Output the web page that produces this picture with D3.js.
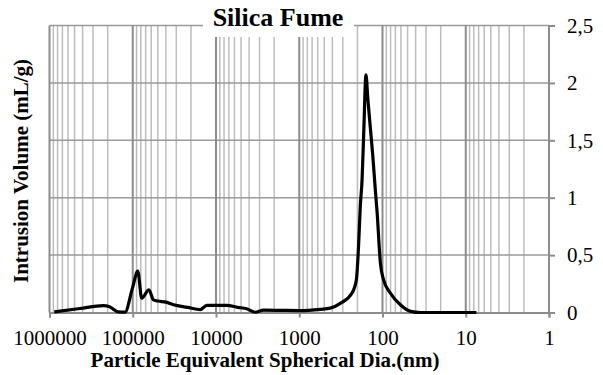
<!DOCTYPE html>
<html>
<head>
<meta charset="utf-8">
<script src="https://cdn.jsdelivr.net/npm/d3@7.9.0/dist/d3.min.js"></script>
<style>
  body { margin: 0; background: #fff; }
  svg { display: block; }
  svg text { font-family: "Liberation Serif", "Times New Roman", serif !important; fill: #000; }
</style>
</head>
<body>
<svg id="chart" width="603" height="375"></svg>
<script>
// particle diameter (nm) and intrusion volume (mL/g)
const diameters = [875000, 430000, 225000, 190000, 149000, 124000, 101000, 87000, 78000, 64000,
  56500, 50000, 40000, 32400, 22000, 15500, 12900, 7400, 5500, 4270,
  3390, 2690, 1500, 970, 560, 424, 321, 232, 206, 194,
  185, 176, 168, 158, 150, 140, 131, 122, 116, 106,
  97, 80.6, 61, 46, 35, 20, 7.45];
const volumes = [0.005, 0.035, 0.06, 0.05, 0.005, 0.003, 0.21, 0.36, 0.125, 0.198,
  0.11, 0.1, 0.09, 0.067, 0.045, 0.025, 0.062, 0.062, 0.045, 0.032,
  0.002, 0.02, 0.018, 0.017, 0.028, 0.038, 0.08, 0.17, 0.285, 0.575,
  0.92, 1.155, 1.57, 2.07, 1.86, 1.61, 1.37, 1.07, 0.87, 0.43,
  0.285, 0.17, 0.067, 0.01, 0.0, 0.0, 0.0];
const xTicks = [1000000, 100000, 10000, 1000, 100, 10, 1];
const yTicks = [0, 0.5, 1, 1.5, 2, 2.5];

const data = diameters.map((d, i) => ({ d, v: volumes[i] }));

const mLeft = 49.5, mRight = 549, mTop = 25.5, mBottom = 312.5;

const svg = d3.select('#chart');
const x = d3.scaleLog().domain([1000000, 1]).range([mLeft, mRight]);
const y = d3.scaleLinear().domain([0, 2.5]).range([mBottom, mTop]);

// minor vertical grid
const minor = [];
for (let e = 0; e < 6; e++) {
  for (let m = 2; m <= 9; m++) minor.push(m * Math.pow(10, e));
}
svg.append('g').selectAll('line').data(minor).join('line')
  .attr('x1', d => x(d)).attr('x2', d => x(d))
  .attr('y1', mTop).attr('y2', mBottom)
  .attr('stroke', '#bdbdbd').attr('stroke-width', 1.5);

// horizontal grid
svg.append('g').selectAll('line').data(yTicks.slice(1)).join('line')
  .attr('x1', mLeft).attr('x2', mRight)
  .attr('y1', d => y(d)).attr('y2', d => y(d))
  .attr('stroke', '#9a9a9a').attr('stroke-width', 1.5);

// decade grid
svg.append('g').selectAll('line').data(xTicks).join('line')
  .attr('x1', d => x(d)).attr('x2', d => x(d))
  .attr('y1', mTop).attr('y2', mBottom)
  .attr('stroke', '#8c8c8c').attr('stroke-width', 2);

// x axis
const xAxis = svg.append('g')
  .attr('transform', `translate(0,${mBottom})`)
  .call(d3.axisBottom(x).tickValues(xTicks).tickFormat(d3.format('d')).tickSize(5).tickPadding(13));
xAxis.attr('font-family', null);
xAxis.select('.domain').attr('stroke', '#8c8c8c').attr('stroke-width', 2);
xAxis.selectAll('.tick line').attr('stroke', '#8c8c8c').attr('stroke-width', 2);
xAxis.selectAll('text').attr('font-size', 21);

// y axis on the right
const yAxis = svg.append('g')
  .attr('transform', `translate(${mRight},0)`)
  .call(d3.axisRight(y).tickValues(yTicks).tickFormat(d => String(d).replace('.', ',')).tickSize(6).tickPadding(12));
yAxis.attr('font-family', null);
yAxis.select('.domain').remove();
yAxis.selectAll('.tick line').attr('stroke', '#8c8c8c').attr('stroke-width', 2);
yAxis.selectAll('text').attr('font-size', 21);

// curve
const line = d3.line().x(d => x(d.d)).y(d => y(d.v)).curve(d3.curveMonotoneX);
svg.append('path').datum(data)
  .attr('d', line)
  .attr('fill', 'none')
  .attr('stroke', '#000')
  .attr('stroke-width', 3.2)
  .attr('stroke-linejoin', 'round');

// title with white box
svg.append('rect').attr('x', 203).attr('y', 0).attr('width', 151).attr('height', 37).attr('fill', '#fff');
svg.append('text').attr('x', 278).attr('y', 26)
  .attr('text-anchor', 'middle').attr('font-size', 26).attr('font-weight', 'bold')
  .text('Silica Fume');

// axis titles
svg.append('text').attr('x', 265).attr('y', 367)
  .attr('text-anchor', 'middle').attr('font-size', 21).attr('font-weight', 'bold')
  .text('Particle Equivalent Spherical Dia.(nm)');
svg.append('text')
  .attr('transform', 'translate(28,171) rotate(-90)')
  .attr('text-anchor', 'middle').attr('font-size', 21).attr('font-weight', 'bold')
  .text('Intrusion Volume (mL/g)');
</script>
</body>
</html>
